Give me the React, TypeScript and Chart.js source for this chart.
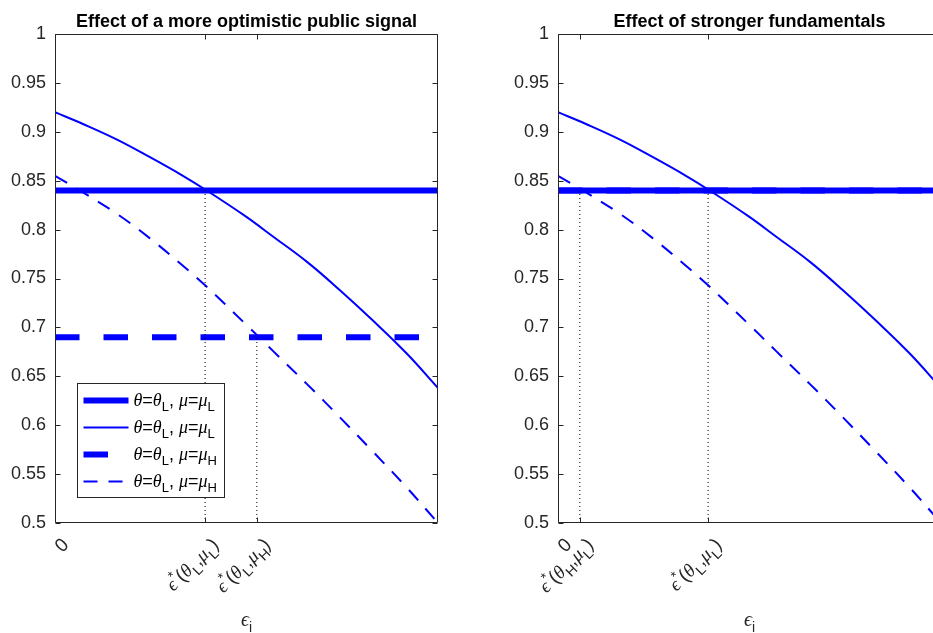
import React, { useEffect, useRef } from 'react';
import { Chart, registerables } from 'chart.js';
Chart.register(...registerables);

// ---- data ----
const xs = [0, 0.073, 0.162, 0.248, 0.334, 0.392, 0.496, 0.569, 0.658, 0.744, 0.83, 0.919, 1.0];
const curveMuL = [0.92, 0.908, 0.892, 0.874, 0.855, 0.841, 0.814, 0.793, 0.767, 0.738, 0.707, 0.673, 0.638];
const curveMuH = [0.855, 0.838, 0.816, 0.791, 0.763, 0.743, 0.704, 0.676, 0.642, 0.608, 0.573, 0.536, 0.5];
const levelMuL = 0.84;
const levelMuH = 0.69;
const xRange = [0, 1];

const leftTitle = 'Effect of a more optimistic public signal';
const rightTitle = 'Effect of stronger fundamentals';
const leftTickVals = [0, 0.392, 0.527];
const leftTickLabels = ['0', '\\epsilon^*(\\theta_L,\\mu_L)', '\\epsilon^*(\\theta_L,\\mu_H)'];
const rightTickVals = [0, 0.057, 0.392];
const rightTickLabels = ['0', '\\epsilon^*(\\theta_H,\\mu_L)', '\\epsilon^*(\\theta_L,\\mu_L)'];
const leftCrossLevels = [levelMuL, levelMuH];
const rightCrossLevels = [levelMuL, levelMuL];
const xAxisLabel = '\\epsilon_i';
const legendLabels = [
  '\\theta=\\theta_L, \\mu=\\mu_L',
  '\\theta=\\theta_L, \\mu=\\mu_L',
  '\\theta=\\theta_L, \\mu=\\mu_H',
  '\\theta=\\theta_L, \\mu=\\mu_H',
];

// ---- styles ----
const SANS = "'Liberation Sans', Arial, Helvetica, sans-serif";
const SERIF = "'Liberation Serif', 'DejaVu Serif', 'Times New Roman', serif";
const BLUE = '#0000ff';
const AXIS = '#262626';
const THICK = 6;
const THIN = 2;
const THICK_DASH = [24.5, 24];
const THIN_DASH = [14, 11];

type Seg = { t: string; k: 'n' | 'g' | 'sub' | 'sup' };
const GREEK: Record<string, string> = { epsilon: '\u03F5', theta: '\u03B8', mu: '\u03BC' };

function parseTex(s: string): Seg[] {
  const out: Seg[] = [];
  let i = 0;
  while (i < s.length) {
    const c = s[i];
    if (c === '\\') {
      const m = /^\\([a-zA-Z]+)/.exec(s.slice(i));
      if (m) {
        out.push({ t: GREEK[m[1]] || m[1], k: 'g' });
        i += m[0].length;
        continue;
      }
    }
    if (c === '^' || c === '_') {
      out.push({ t: s[i + 1], k: c === '^' ? 'sup' : 'sub' });
      i += 2;
      continue;
    }
    const last = out[out.length - 1];
    if (last && last.k === 'n') last.t += c;
    else out.push({ t: c, k: 'n' });
    i++;
  }
  return out;
}

function segFont(k: Seg['k'], size: number) {
  if (k === 'g') return `italic ${size}px ${SERIF}`;
  if (k === 'sub' || k === 'sup') return `${Math.round(size * 0.72)}px ${SANS}`;
  return `${size}px ${SANS}`;
}
function segWidth(ctx: CanvasRenderingContext2D, segs: Seg[], size: number) {
  let w = 0;
  for (const s of segs) {
    ctx.font = segFont(s.k, size);
    w += ctx.measureText(s.t).width;
  }
  return w;
}
function drawSegs(ctx: CanvasRenderingContext2D, segs: Seg[], size: number, x: number, y: number) {
  let cx = x;
  for (const s of segs) {
    ctx.font = segFont(s.k, size);
    const dy = s.k === 'sub' ? size * 0.32 : s.k === 'sup' ? -size * 0.42 : 0;
    ctx.fillText(s.t, cx, y + dy);
    cx += ctx.measureText(s.t).width;
  }
}

type PanelProps = {
  left: number;
  title: string;
  tickVals: number[];
  tickLabels: string[];
  crossLevels: number[];
  horizontalDashed: number;
  showLegend: boolean;
};

function Panel(p: PanelProps) {
  const ref = useRef<HTMLCanvasElement>(null);
  useEffect(() => {
    const canvas = ref.current!;
    const pts = (ys: number[]) => xs.map((x, i) => ({ x, y: ys[i] }));
    const flat = (v: number) => xRange.map((x) => ({ x, y: v }));
    const datasets: any[] = [];
    p.tickVals.slice(1).forEach((tv, i) => {
      datasets.push({
        data: [{ x: tv, y: 0.5 }, { x: tv, y: p.crossLevels[i] }],
        borderColor: '#000',
        borderWidth: 1,
        borderDash: [1, 3],
        order: 0,
      });
    });
    datasets.push({ data: pts(curveMuH), borderColor: BLUE, borderWidth: THIN, borderDash: THIN_DASH, tension: 0.4, order: 1 });
    datasets.push({ data: flat(p.horizontalDashed), borderColor: BLUE, borderWidth: THICK, borderDash: THICK_DASH, order: 2 });
    datasets.push({ data: pts(curveMuL), borderColor: BLUE, borderWidth: THIN, tension: 0.4, order: 3 });
    datasets.push({ data: flat(levelMuL), borderColor: BLUE, borderWidth: THICK, order: 4 });

    const decor = {
      id: 'decor',
      afterDraw(chart: any) {
        const { ctx, chartArea: a } = chart;
        const sx = chart.scales.x;
        const sy = chart.scales.y;
        ctx.save();
        // box
        ctx.strokeStyle = AXIS;
        ctx.lineWidth = 1;
        const L = Math.round(a.left) + 0.5, R = Math.round(a.right) - 0.5;
        const T = Math.round(a.top) + 0.5, B = Math.round(a.bottom) - 0.5;
        ctx.beginPath();
        ctx.rect(L, T, R - L, B - T);
        ctx.stroke();
        // inward ticks
        ctx.beginPath();
        for (const t of sy.ticks) {
          const y = Math.round(sy.getPixelForValue(t.value)) + 0.5;
          ctx.moveTo(L, y); ctx.lineTo(L + 5, y);
          ctx.moveTo(R, y); ctx.lineTo(R - 5, y);
        }
        for (const v of p.tickVals) {
          const x = Math.round(sx.getPixelForValue(v)) + 0.5;
          ctx.moveTo(x, B); ctx.lineTo(x, B - 5);
          ctx.moveTo(x, T); ctx.lineTo(x, T + 5);
        }
        ctx.stroke();
        ctx.fillStyle = AXIS;
        ctx.textBaseline = 'alphabetic';
        ctx.textAlign = 'left';
        // rotated x tick labels
        const fs = 19;
        p.tickVals.forEach((v, i) => {
          const segs = parseTex(p.tickLabels[i]);
          const w = segWidth(ctx, segs, fs);
          const x = sx.getPixelForValue(v);
          ctx.save();
          ctx.translate(x + 10, a.bottom + 18);
          ctx.rotate(-Math.PI / 4);
          drawSegs(ctx, segs, fs, -w, fs * 0.35);
          ctx.restore();
        });
        // x axis label
        const xl = parseTex(xAxisLabel);
        const xlw = segWidth(ctx, xl, 20);
        drawSegs(ctx, xl, 20, (a.left + a.right) / 2 - xlw / 2, 626);
        // title
        ctx.font = `bold 18px ${SANS}`;
        ctx.fillStyle = '#000';
        ctx.textAlign = 'center';
        ctx.fillText(p.title, (a.left + a.right) / 2, 27);
        ctx.textAlign = 'left';
        // legend
        if (p.showLegend) {
          const lx = Math.round(a.left) + 22.5, ly = Math.round(a.bottom) - 139.5;
          const lw = 147, lh = 114;
          ctx.fillStyle = '#fff';
          ctx.fillRect(lx, ly, lw, lh);
          ctx.strokeStyle = AXIS;
          ctx.lineWidth = 1;
          ctx.strokeRect(lx, ly, lw, lh);
          const styles = [
            { w: THICK, d: [] as number[] },
            { w: THIN, d: [] as number[] },
            { w: THICK, d: THICK_DASH },
            { w: THIN, d: THIN_DASH },
          ];
          legendLabels.forEach((lab, i) => {
            const ry = ly + 17 + 27 * i;
            ctx.strokeStyle = BLUE;
            ctx.lineWidth = styles[i].w;
            ctx.setLineDash(styles[i].d);
            ctx.beginPath();
            ctx.moveTo(lx + 6, ry);
            ctx.lineTo(lx + 51, ry);
            ctx.stroke();
            ctx.setLineDash([]);
            ctx.fillStyle = '#000';
            drawSegs(ctx, parseTex(lab), 18, lx + 56, ry + 5);
          });
        }
        ctx.restore();
      },
    };

    const chart = new Chart(canvas, {
      type: 'line',
      data: { datasets },
      options: {
        responsive: false,
        animation: false,
        devicePixelRatio: 1,
        layout: { padding: { top: 34, bottom: 110, left: 0, right: 28 } },
        elements: { point: { radius: 0 }, line: { tension: 0, borderCapStyle: 'butt' } },
        plugins: { legend: { display: false }, tooltip: { enabled: false }, title: { display: false } },
        scales: {
          x: { type: 'linear', min: xRange[0], max: xRange[1], display: false },
          y: {
            type: 'linear',
            min: 0.5,
            max: 1,
            grid: { display: false, drawTicks: false },
            border: { display: false },
            ticks: {
              stepSize: 0.05,
              padding: 9,
              color: AXIS,
              font: { family: SANS, size: 18 },
              callback: (v: any) => String(Number(Number(v).toFixed(2))),
            },
            afterFit: (s: any) => { s.width = 55; },
          },
        },
      } as any,
      plugins: [decor],
    });
    return () => chart.destroy();
  }, []);
  return (
    <canvas
      ref={ref}
      width={466}
      height={633}
      style={{ position: 'absolute', left: p.left, top: 0, width: 466, height: 633 }}
    />
  );
}

export default function App() {
  return (
    <div style={{ position: 'fixed', left: 0, top: 0, width: 933, height: 633, overflow: 'hidden', background: '#fff' }}>
      <Panel left={0} title={leftTitle} tickVals={leftTickVals} tickLabels={leftTickLabels} crossLevels={leftCrossLevels} horizontalDashed={levelMuH} showLegend={true} />
      <Panel left={503} title={rightTitle} tickVals={rightTickVals} tickLabels={rightTickLabels} crossLevels={rightCrossLevels} horizontalDashed={levelMuL} showLegend={false} />
    </div>
  );
}
